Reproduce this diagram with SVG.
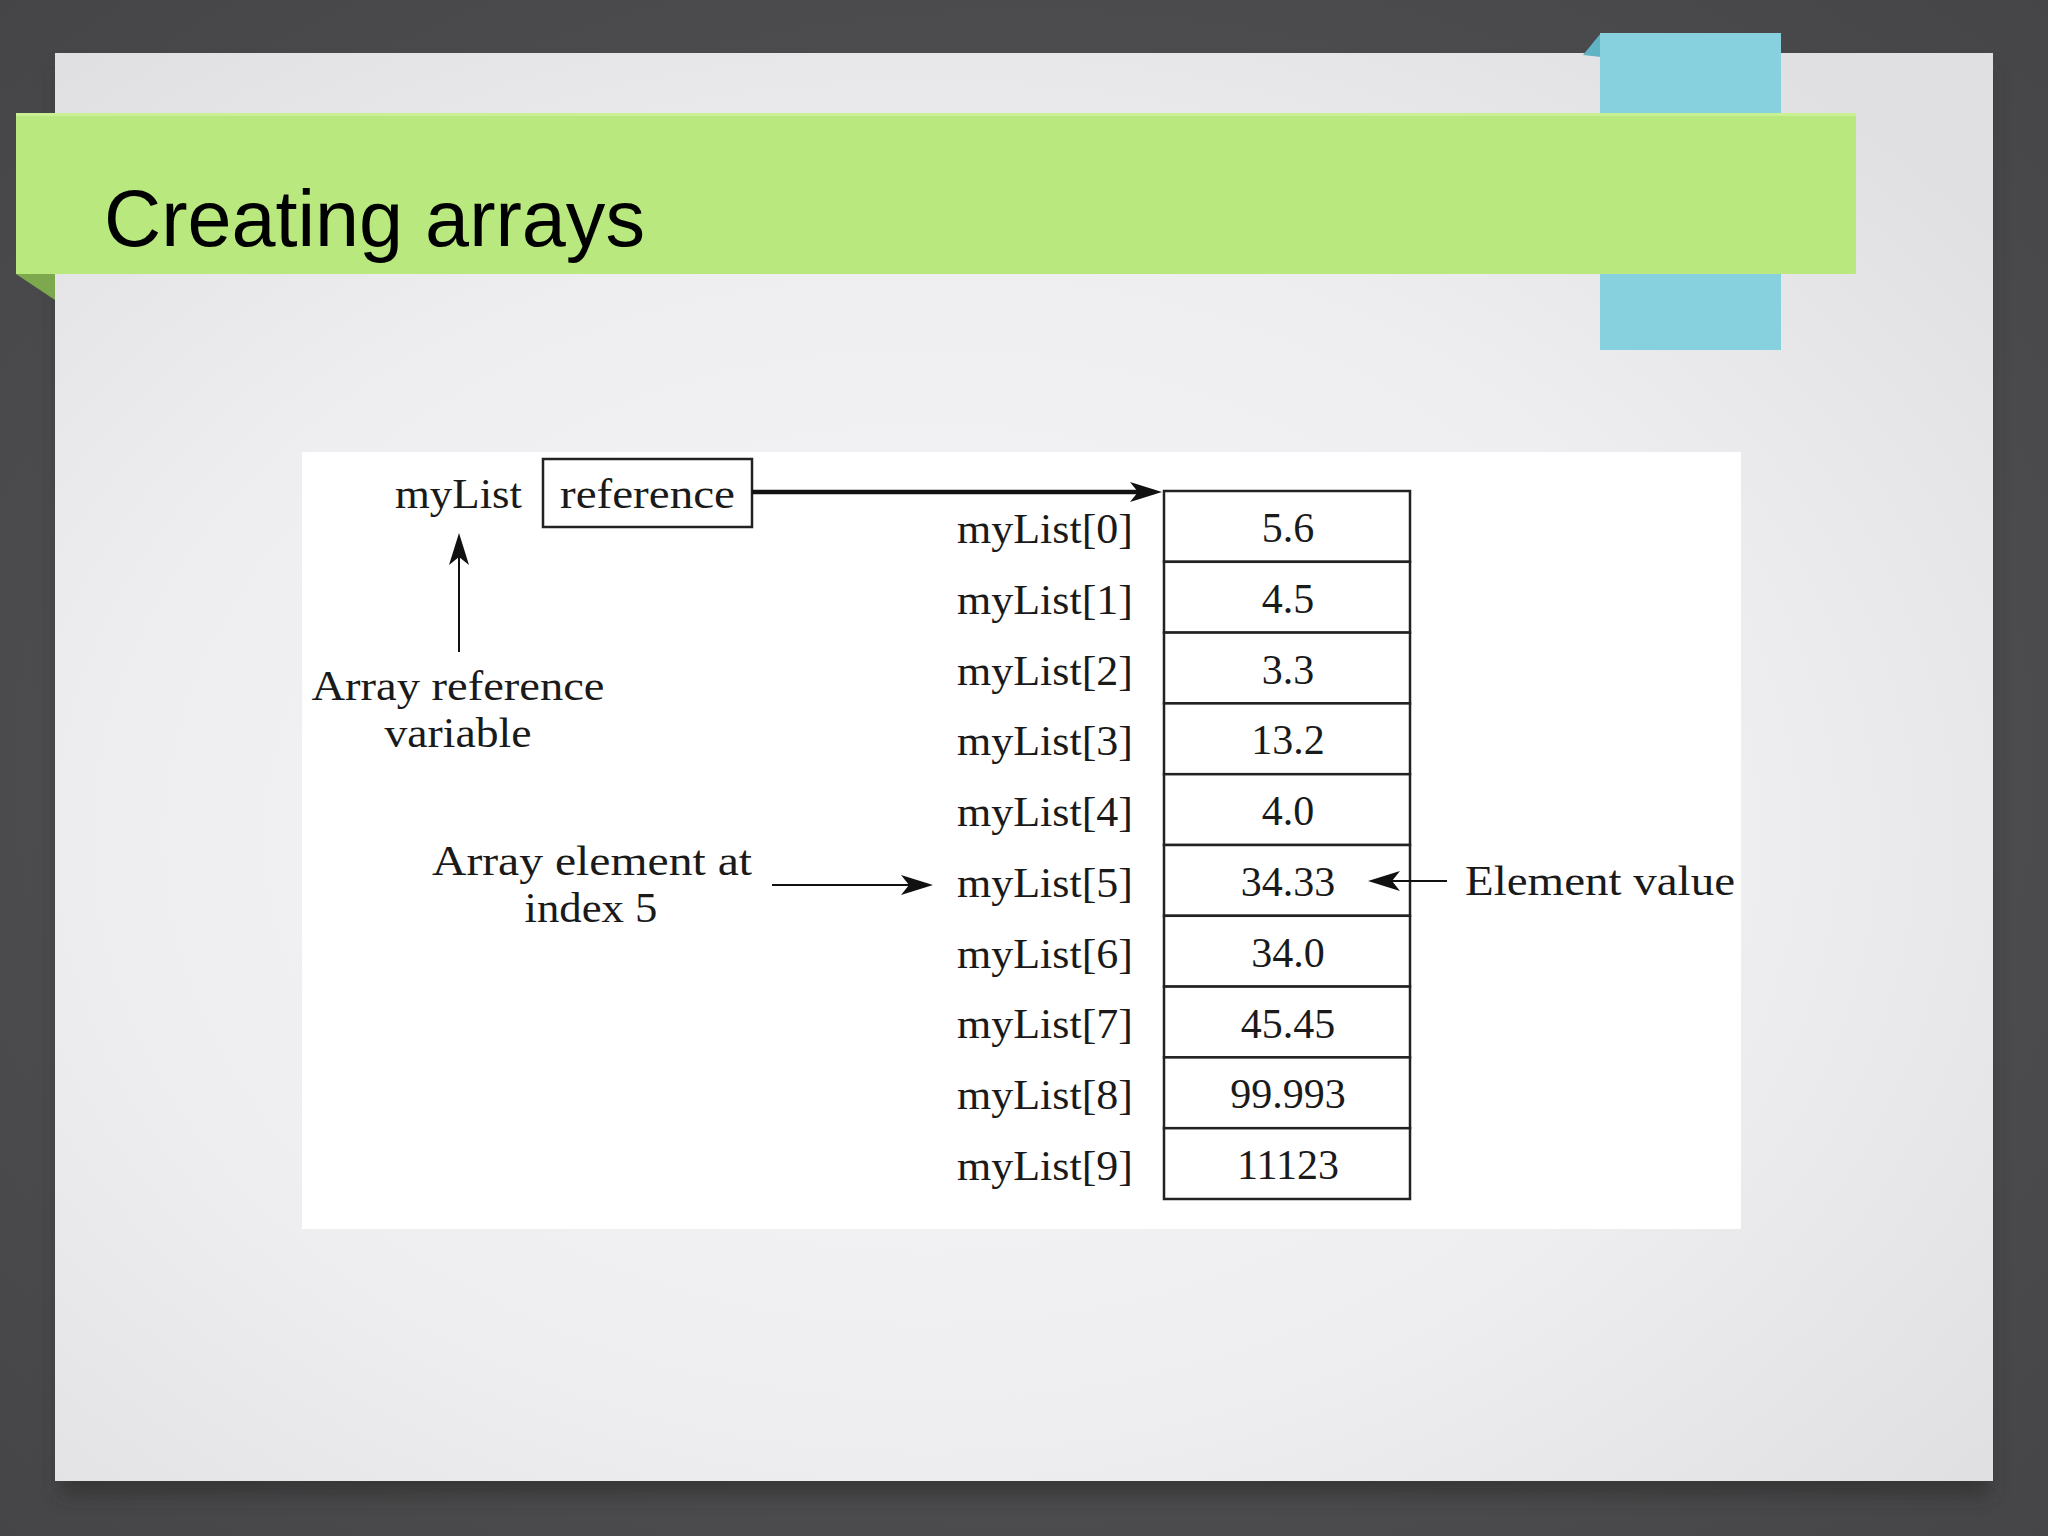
<svg xmlns="http://www.w3.org/2000/svg" width="2048" height="1536" viewBox="0 0 2048 1536">
<defs>
<radialGradient id="bg" cx="50%" cy="50%" r="75%">
<stop offset="0" stop-color="#5a5a5c"/>
<stop offset="1" stop-color="#444446"/>
</radialGradient>
<radialGradient id="slideG" cx="45%" cy="55%" r="70%">
<stop offset="0" stop-color="#f6f5f7"/>
<stop offset="0.6" stop-color="#eeeef0"/>
<stop offset="1" stop-color="#e0e0e2"/>
</radialGradient>
<filter id="shadow" x="-5%" y="-5%" width="110%" height="115%">
<feGaussianBlur stdDeviation="10"/>
</filter>
<marker id="ah" viewBox="0 0 32 20" refX="24" refY="10" markerWidth="32" markerHeight="20" markerUnits="userSpaceOnUse" orient="auto">
<path d="M0,0 L32,10 L0,20 L8,10 z" fill="#111"/>
</marker>
<style>
.t{font-family:"Liberation Serif","Times New Roman",serif;font-size:42px;fill:#1a1a1a}
.m{text-anchor:middle}
.cell{fill:#fff;stroke:#222;stroke-width:2.5}
.conn{stroke:#111;fill:none}
</style>
</defs>
<rect width="2048" height="1536" fill="url(#bg)"/>
<rect x="60" y="70" width="1930" height="1425" fill="#2a2a2c" opacity="0.6" filter="url(#shadow)"/>
<rect x="55" y="53" width="1938" height="1428" fill="url(#slideG)"/>
<g id="cyan-tab">
<polygon points="1601,33 1583,55 1601,57" fill="#5fb3c2"/>
<rect x="1600" y="33" width="181" height="317" fill="#86d1dd"/>
</g>
<g id="title-band">
<polygon points="16,274 55,274 55,300" fill="#7ea84e"/>
<rect x="16" y="113" width="1840" height="161" fill="#b8e87e"/>
<rect x="16" y="113" width="1840" height="3" fill="#c9f093"/>
<text x="104" y="246" font-family="'Liberation Sans',Arial,sans-serif" font-size="80" fill="#000" textLength="541" lengthAdjust="spacingAndGlyphs">Creating arrays</text>
</g>
<rect x="302" y="452" width="1439" height="777" fill="#ffffff"/>
<g id="myList-var">
<text class="t" x="395" y="508" textLength="127" lengthAdjust="spacingAndGlyphs">myList</text>
</g>
<g id="reference-box">
<rect x="543" y="459" width="209" height="68" fill="#fff" stroke="#222" stroke-width="2.5"/>
<text class="t" x="560" y="508" textLength="175" lengthAdjust="spacingAndGlyphs">reference</text>
</g>
<g id="label-array-reference">
<text class="t m" x="458" y="700" textLength="293" lengthAdjust="spacingAndGlyphs">Array reference</text>
<text class="t m" x="458" y="747" textLength="147" lengthAdjust="spacingAndGlyphs">variable</text>
</g>
<g id="label-array-element">
<text class="t m" x="592" y="875" textLength="320" lengthAdjust="spacingAndGlyphs">Array element at</text>
<text class="t m" x="591" y="922" textLength="133" lengthAdjust="spacingAndGlyphs">index 5</text>
</g>
<g id="label-element-value">
<text class="t" x="1465" y="895" textLength="270" lengthAdjust="spacingAndGlyphs">Element value</text>
</g>
<g id="array">
<rect class="cell" x="1164" y="491" width="246" height="70.8"/>
<rect class="cell" x="1164" y="561.8" width="246" height="70.8"/>
<rect class="cell" x="1164" y="632.6" width="246" height="70.8"/>
<rect class="cell" x="1164" y="703.4" width="246" height="70.8"/>
<rect class="cell" x="1164" y="774.2" width="246" height="70.8"/>
<rect class="cell" x="1164" y="845" width="246" height="70.8"/>
<rect class="cell" x="1164" y="915.8" width="246" height="70.8"/>
<rect class="cell" x="1164" y="986.6" width="246" height="70.8"/>
<rect class="cell" x="1164" y="1057.4" width="246" height="70.8"/>
<rect class="cell" x="1164" y="1128.2" width="246" height="70.8"/>
<text class="t m" x="1288" y="542">5.6</text>
<text class="t m" x="1288" y="613">4.5</text>
<text class="t m" x="1288" y="684">3.3</text>
<text class="t m" x="1288" y="754">13.2</text>
<text class="t m" x="1288" y="825">4.0</text>
<text class="t m" x="1288" y="896">34.33</text>
<text class="t m" x="1288" y="967">34.0</text>
<text class="t m" x="1288" y="1038">45.45</text>
<text class="t m" x="1288" y="1108">99.993</text>
<text class="t m" x="1288" y="1179">11123</text>
</g>
<g id="index-labels">
<text class="t" x="957" y="543" textLength="176" lengthAdjust="spacingAndGlyphs">myList[0]</text>
<text class="t" x="957" y="614" textLength="176" lengthAdjust="spacingAndGlyphs">myList[1]</text>
<text class="t" x="957" y="685" textLength="176" lengthAdjust="spacingAndGlyphs">myList[2]</text>
<text class="t" x="957" y="755" textLength="176" lengthAdjust="spacingAndGlyphs">myList[3]</text>
<text class="t" x="957" y="826" textLength="176" lengthAdjust="spacingAndGlyphs">myList[4]</text>
<text class="t" x="957" y="897" textLength="176" lengthAdjust="spacingAndGlyphs">myList[5]</text>
<text class="t" x="957" y="968" textLength="176" lengthAdjust="spacingAndGlyphs">myList[6]</text>
<text class="t" x="957" y="1038" textLength="176" lengthAdjust="spacingAndGlyphs">myList[7]</text>
<text class="t" x="957" y="1109" textLength="176" lengthAdjust="spacingAndGlyphs">myList[8]</text>
<text class="t" x="957" y="1180" textLength="176" lengthAdjust="spacingAndGlyphs">myList[9]</text>
</g>
<g id="connectors">
<line class="conn" x1="752" y1="492" x2="1154" y2="492" stroke-width="4.5" marker-end="url(#ah)"/>
<line class="conn" x1="459" y1="652" x2="459" y2="541" stroke-width="2" marker-end="url(#ah)"/>
<line class="conn" x1="772" y1="885" x2="925" y2="885" stroke-width="2" marker-end="url(#ah)"/>
<line class="conn" x1="1447" y1="881" x2="1376" y2="881" stroke-width="2" marker-end="url(#ah)"/>
</g>
</svg>
